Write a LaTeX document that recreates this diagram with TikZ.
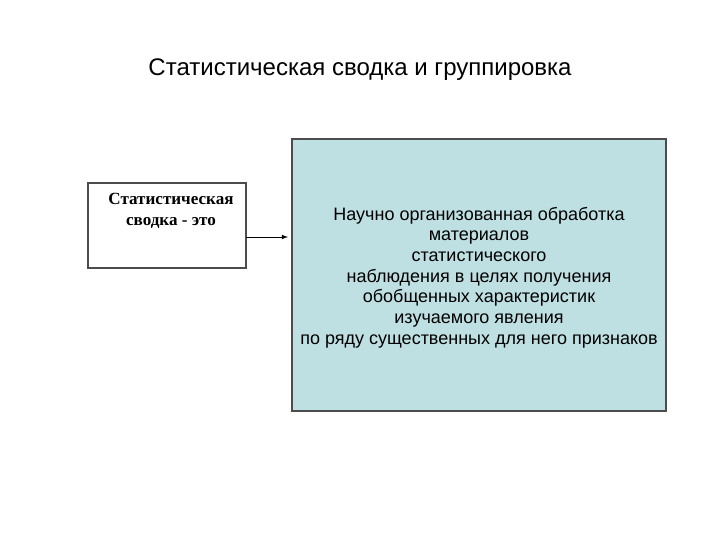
\documentclass[tikz,border=0pt]{standalone}
\usepackage{fontspec}
\setmainfont{Liberation Sans}
\newfontfamily\serifb{Liberation Serif}
\definecolor{boxcyan}{HTML}{BFE0E3}
\begin{document}
\begin{tikzpicture}[x=0.75pt,y=-0.75pt,
  lbox/.style={draw=black!70,line width=0.8pt,fill=white},
  rbox/.style={draw=black!70,line width=0.8pt,fill=boxcyan}]
\useasboundingbox (0,0) rectangle (720,540);
\node (title) at (360,70) {\fontsize{18}{22}\selectfont Статистическая сводка и группировка};
\draw[lbox] (88,183) rectangle (246,268);
\node (left) at (88,183) {};
\node (ltext) at (171,211) {\serifb\bfseries\fontsize{12.8}{16}\selectfont\begin{tabular}{c}Статистическая\\сводка - это\end{tabular}};
\draw[rbox] (292,139) rectangle (666,411);
\node (rtext) at (479,278) {\fontsize{13.5}{15.5}\selectfont\begin{tabular}{c}Научно организованная обработка\\материалов\\статистического\\наблюдения в целях получения\\обобщенных характеристик\\изучаемого явления\\по ряду существенных для него признаков\end{tabular}};
\coordinate (a) at (246,237);
\coordinate (b) at (288,237);
\draw[-latex,line width=0.6pt] (a) -- (b);
\end{tikzpicture}
\end{document}
